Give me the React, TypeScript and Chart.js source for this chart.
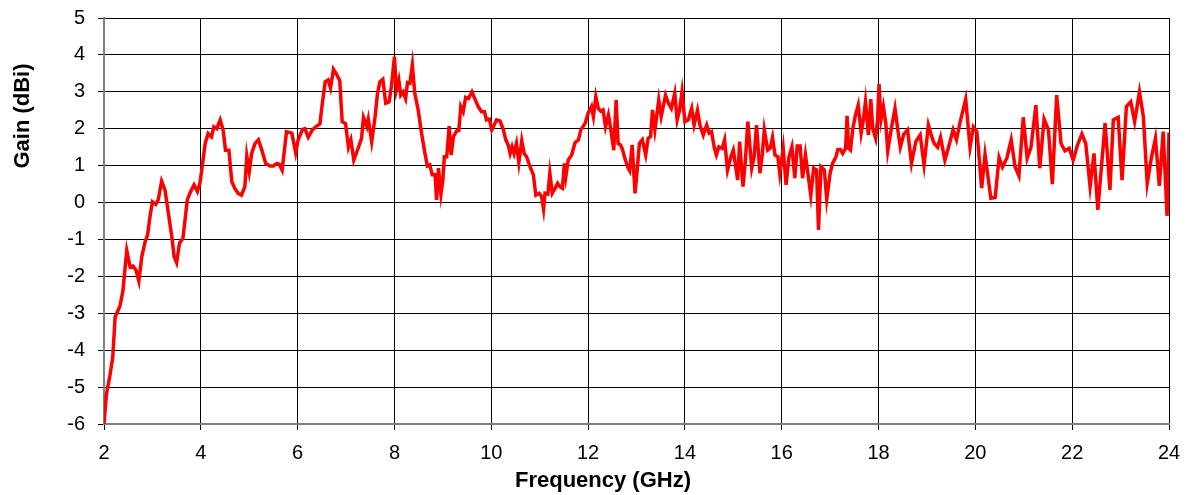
import React, { useEffect, useRef } from "react";
import { Chart, registerables } from "chart.js";

Chart.register(...registerables);

const frequencies = [
  2.0, 2.05, 2.12, 2.18, 2.23, 2.33, 2.39, 2.47, 2.54, 2.6, 2.66, 2.72, 2.78, 2.85, 2.9, 2.95,
  3.0, 3.07, 3.12, 3.19, 3.26, 3.33, 3.4, 3.45, 3.5, 3.56, 3.63, 3.67, 3.72, 3.79, 3.86, 3.93, 3.98,
  4.02, 4.09, 4.15, 4.22, 4.27, 4.33, 4.4, 4.46, 4.51, 4.58, 4.64, 4.7, 4.77, 4.84, 4.91, 4.95,
  5.0, 5.05, 5.12, 5.19, 5.26, 5.34, 5.43, 5.5, 5.57, 5.62, 5.68, 5.77, 5.88, 5.96,
  6.01, 6.1, 6.15, 6.22, 6.3, 6.39, 6.46, 6.51, 6.57, 6.63, 6.68, 6.74, 6.81, 6.87, 6.92, 6.99,
  7.05, 7.1, 7.16, 7.25, 7.32, 7.36, 7.43, 7.46, 7.53, 7.6, 7.65, 7.7, 7.76, 7.82, 7.89, 7.94,
  8.0, 8.04, 8.09, 8.13, 8.18, 8.23, 8.27, 8.32, 8.37, 8.42, 8.49, 8.56, 8.63, 8.68, 8.73, 8.78, 8.84, 8.87, 8.91, 8.96,
  9.0, 9.03, 9.08, 9.13, 9.17, 9.22, 9.29, 9.33, 9.37, 9.42, 9.47, 9.53, 9.6, 9.67, 9.73, 9.8, 9.86, 9.9, 9.96,
  10.01, 10.06, 10.11, 10.18, 10.25, 10.3, 10.35, 10.39, 10.43, 10.47, 10.52, 10.57, 10.63, 10.68, 10.73, 10.8, 10.87, 10.92, 10.99,
  11.04, 11.08, 11.11, 11.17, 11.21, 11.26, 11.32, 11.37, 11.42, 11.47, 11.51, 11.54, 11.59, 11.66, 11.73, 11.8, 11.85, 11.94,
  12.0, 12.07, 12.11, 12.16, 12.21, 12.26, 12.31, 12.36, 12.42, 12.47, 12.53, 12.58, 12.62, 12.67, 12.71, 12.77, 12.83, 12.86, 12.91, 12.97,
  13.02, 13.06, 13.12, 13.19, 13.24, 13.29, 13.33, 13.38, 13.46, 13.51, 13.6, 13.66, 13.72, 13.79, 13.84, 13.89, 13.94,
  14.0, 14.07, 14.14, 14.19, 14.26, 14.31, 14.38, 14.45, 14.5, 14.55, 14.61, 14.65, 14.7, 14.77, 14.82, 14.88, 14.95,
  15.0, 15.04, 15.09, 15.13, 15.2, 15.25, 15.3, 15.38, 15.43, 15.48, 15.55, 15.6, 15.64, 15.71, 15.76, 15.81, 15.86, 15.92, 15.96,
  16.03, 16.09, 16.15, 16.21, 16.27, 16.32, 16.38, 16.43, 16.49, 16.55, 16.6, 16.66, 16.72, 16.76, 16.81, 16.88, 16.93,
  17.0, 17.05, 17.12, 17.16, 17.21, 17.26, 17.32, 17.35, 17.38, 17.42, 17.47, 17.52, 17.58, 17.64, 17.69, 17.73, 17.79, 17.84, 17.88, 17.94, 17.98,
  18.01, 18.05, 18.1, 18.15, 18.19, 18.26, 18.34, 18.4, 18.45, 18.52, 18.6, 18.68, 18.77, 18.86, 18.94,
  19.03, 19.1, 19.15, 19.22, 19.28, 19.37, 19.44, 19.54, 19.61, 19.68, 19.8, 19.89, 19.96,
  20.03, 20.06, 20.13, 20.2, 20.32, 20.41, 20.49, 20.56, 20.65, 20.74, 20.82, 20.9, 20.99,
  21.07, 21.15, 21.25, 21.33, 21.42, 21.51, 21.59, 21.68, 21.77, 21.85, 21.94,
  22.02, 22.11, 22.2, 22.28, 22.37, 22.45, 22.53, 22.68, 22.78, 22.85, 22.95,
  23.03, 23.12, 23.21, 23.29, 23.39, 23.47, 23.55, 23.64, 23.72, 23.8, 23.88, 23.96, 24.0,
];

const gains = [
  -6.0, -5.2, -4.7, -4.2, -3.1, -2.8, -2.4, -1.3, -1.75, -1.72, -1.83, -2.13, -1.47, -1.06, -0.88, -0.38,
  0.02, -0.05, 0.07, 0.58, 0.34, -0.29, -0.92, -1.47, -1.63, -1.1, -0.97, -0.52, 0.07, 0.3, 0.48, 0.3, 0.52,
  0.88, 1.6, 1.87, 1.78, 2.05, 2.0, 2.24, 1.97, 1.42, 1.42, 0.57, 0.39, 0.25, 0.2, 0.43, 1.26,
  0.84, 1.33, 1.6, 1.7, 1.42, 1.06, 0.99, 0.99, 1.06, 1.04, 0.88, 1.92, 1.88, 1.35,
  1.7, 1.98, 2.0, 1.77, 1.96, 2.07, 2.13, 2.69, 3.27, 3.32, 3.1, 3.61, 3.46, 3.3, 2.19, 2.14,
  1.5, 1.7, 1.15, 1.47, 1.74, 2.31, 2.06, 2.26, 1.65, 2.33, 2.96, 3.27, 3.34, 2.69, 2.73, 3.18,
  3.95, 3.05, 3.32, 2.91, 3.0, 2.82, 3.25, 3.23, 3.73, 2.96, 2.51, 1.88, 1.33, 0.99, 1.02, 0.75, 0.75, 0.07, 0.93, 0.23,
  0.61, 1.24, 1.24, 2.07, 1.29, 1.79, 1.95, 1.95, 2.6, 2.46, 2.85, 2.82, 3.0, 2.78, 2.6, 2.46, 2.46, 2.24, 2.26,
  1.97, 2.1, 2.24, 2.21, 1.97, 1.7, 1.56, 1.33, 1.51, 1.33, 1.6, 1.08, 1.68, 1.33, 1.24, 0.97, 0.75, 0.2, 0.25,
  0.16, -0.18, 0.25, 0.23, 0.79, 0.25, 0.39, 0.52, 0.43, 0.39, 1.06, 0.7, 1.15, 1.29, 1.62, 1.7, 1.97, 2.15,
  2.42, 2.6, 2.33, 2.87, 2.55, 2.48, 2.51, 2.05, 2.37, 1.97, 1.42, 2.78, 1.6, 1.56, 1.44, 1.15, 0.93, 0.86, 1.56, 0.25,
  0.97, 1.6, 1.7, 1.29, 1.74, 1.78, 2.51, 1.97, 2.78, 2.33, 2.91, 2.69, 2.55, 2.96, 2.24, 2.51, 3.0,
  2.19, 2.24, 2.55, 2.1, 2.5, 2.1, 1.83, 2.1, 1.88, 1.92, 1.47, 1.29, 1.51, 1.47, 1.7, 0.88, 1.24,
  1.42, 1.06, 0.61, 1.65, 0.43, 1.15, 2.19, 0.93, 1.24, 2.1, 0.79, 1.33, 1.97, 1.42, 1.47, 1.77, 1.29, 1.24, 0.79,
  1.47, 0.48, 1.24, 1.51, 0.66, 1.53, 1.53, 0.66, 1.29, 0.7, 0.2, 0.93, 0.88, -0.74, 0.97, 0.88, 0.09,
  0.79, 1.06, 1.24, 1.44, 1.44, 1.33, 1.47, 2.35, 1.47, 1.42, 2.01, 2.35, 2.64, 1.88, 2.28, 2.73, 1.83, 2.8, 2.01, 1.74, 2.24,
  3.21, 2.24, 2.6, 2.15, 1.4, 1.97, 2.55, 1.95, 1.5, 1.85, 1.97, 1.06, 1.65, 1.83, 1.02,
  2.1, 1.78, 1.6, 1.5, 1.77, 1.15, 1.47, 1.97, 1.7, 2.15, 2.8, 1.5, 2.05,
  1.92, 1.51, 0.39, 1.3, 0.12, 0.14, 1.22, 0.96, 1.2, 1.7, 0.97, 0.72, 2.31,
  1.2, 1.5, 2.64, 0.93, 2.26, 1.97, 0.5, 2.91, 1.6, 1.4, 1.47,
  1.15, 1.56, 1.86, 1.6, 0.43, 1.33, -0.2, 2.15, 0.34, 2.24, 2.31,
  0.61, 2.6, 2.73, 2.19, 3.0, 2.33, 0.52, 1.24, 1.74, 0.45, 1.92, -0.36, 1.9,
];

const xAxisTitle = "Frequency (GHz)";
const yAxisTitle = "Gain (dBi)";
const xRange = [2, 24];
const yRange = [-6, 5];
const xStep = 2;
const yStep = 1;

const FONT = 'Arial, "Liberation Sans", sans-serif';

const titlesPlugin = {
  id: "axisTitles",
  afterDraw(chart: any) {
    const ctx = chart.ctx;
    ctx.save();
    ctx.font = `bold 22px ${FONT}`;
    ctx.fillStyle = "#000";
    ctx.textAlign = "center";
    ctx.textBaseline = "middle";
    ctx.fillText(xAxisTitle, 603, 481);
    ctx.translate(23, 116);
    ctx.rotate(-Math.PI / 2);
    ctx.fillText(yAxisTitle, 0, 0);
    ctx.restore();
  },
};

export default function App() {
  const ref = useRef<HTMLCanvasElement | null>(null);

  useEffect(() => {
    if (!ref.current) return;
    const points = frequencies.map((f, i) => ({ x: f, y: gains[i] }));
    const chart = new Chart(ref.current, {
      type: "line",
      data: {
        datasets: [
          {
            data: points,
            borderColor: "#ff0000",
            borderWidth: 3.5,
            pointRadius: 0,
            tension: 0,
            fill: false,
          },
        ],
      },
      options: {
        animation: false,
        responsive: false,
        devicePixelRatio: 1,
        layout: { padding: { left: 0, top: 18, right: 19, bottom: 0 } },
        plugins: { legend: { display: false }, tooltip: { enabled: false } },
        scales: {
          x: {
            type: "linear",
            min: xRange[0],
            max: xRange[1],
            afterFit: (s: any) => {
              s.height = 71;
              s.paddingLeft = 0;
              s.paddingRight = 0;
            },
            ticks: {
              stepSize: xStep,
              color: "#000",
              font: { family: FONT, size: 20 },
              padding: 11,
              maxRotation: 0,
              callback: (v: any) => String(v),
            },
            grid: { color: "#000", lineWidth: 1, tickLength: 6, tickColor: "#000" },
            border: { color: "#808080", width: 2 },
          },
          y: {
            type: "linear",
            min: yRange[0],
            max: yRange[1],
            afterFit: (s: any) => {
              s.width = 104;
              s.paddingTop = 0;
              s.paddingBottom = 0;
            },
            ticks: {
              stepSize: yStep,
              color: "#000",
              font: { family: FONT, size: 20 },
              padding: 13,
              callback: (v: any) => String(v),
            },
            grid: { color: "#000", lineWidth: 1, tickLength: 6, tickColor: "#000" },
            border: { color: "#808080", width: 2 },
          },
        },
      },
      plugins: [titlesPlugin],
    });
    return () => chart.destroy();
  }, []);

  return (
    <div style={{ position: "absolute", left: 0, top: 0, width: 1188, height: 495, background: "#fff" }}>
      <canvas ref={ref} width={1188} height={495} style={{ width: 1188, height: 495, display: "block" }} />
    </div>
  );
}
